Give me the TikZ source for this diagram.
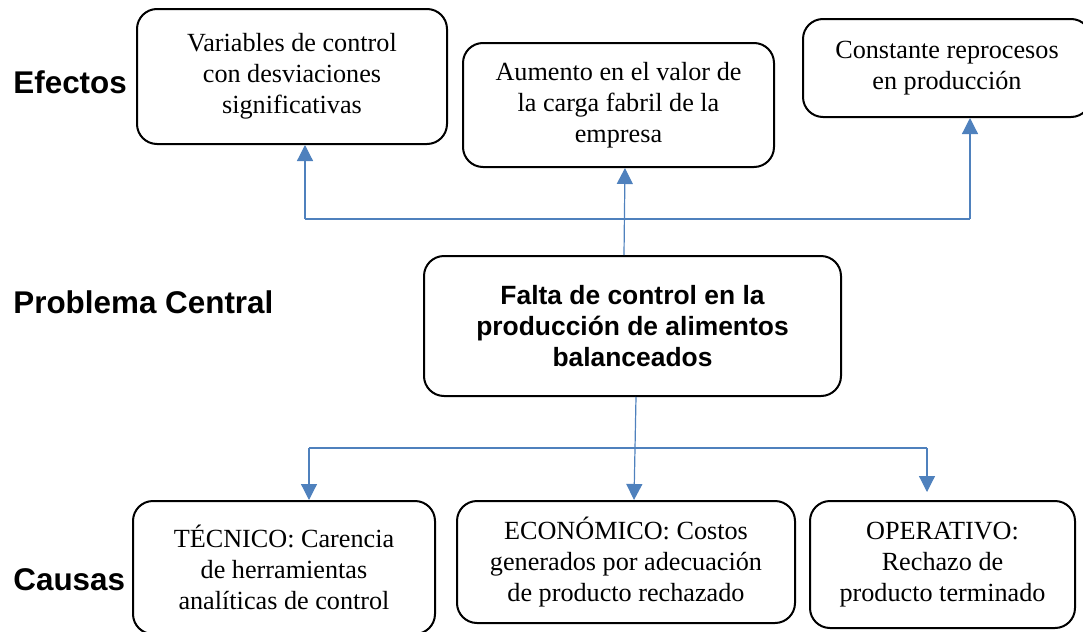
\documentclass[tikz,border=0pt]{standalone}
\usepackage{fontspec}
\setmainfont{Liberation Serif}
\setsansfont{Liberation Sans}
\usepackage{tikz}
\usetikzlibrary{arrows.meta}
\usetikzlibrary{positioning}
\definecolor{linkblue}{RGB}{79,129,189}
\tikzstyle{box} = [draw=black, line width=1pt, rounded corners=10pt, inner sep=0pt, align=center, font=\fontsize{13.1}{15.5}\selectfont]
\tikzstyle{core} = [box, font=\sffamily\bfseries\fontsize{13.2}{15.5}\selectfont]
\tikzstyle{tag} = [anchor=base west, inner sep=0pt, font=\sffamily\bfseries\fontsize{15.7}{18}\selectfont]
\tikzstyle{link} = [draw=linkblue, line width=0.6pt]
\tikzstyle{arrow} = [link, -{Triangle[length=8pt,width=8pt]}]

\begin{document}
\begin{tikzpicture}[x=0.5pt, y=-0.5pt]
                        \useasboundingbox (0, 0) rectangle (1083, 632);
                        \node [tag] (efectos) at (13, 93) {Efectos};
                        \node [tag] (problema) at (13, 313) {Problema Central};
                        \node [tag] (causas) at (13, 590) {Causas};
                        \node [box, minimum width=155pt, minimum height=67.5pt] (var) at (292, 76.5) {Variables de control\\con desviaciones\\significativas};
                        \node [box, minimum width=155.5pt, minimum height=62pt] (aum) at (618.5, 105) {Aumento en el valor de\\la carga fabril de la\\empresa};
                        \node [box, minimum width=144pt, minimum height=49pt] (cons) at (947, 68) {Constante reprocesos\\en producción};
                        \node [core, minimum width=208.5pt, minimum height=70pt] (falta) at (632.5, 326) {Falta de control en la\\producción de alimentos\\balanceados};
                        \node [box, minimum width=151pt, minimum height=66.5pt] (tec) at (284, 567.5) {TÉCNICO: Carencia\\de herramientas\\analíticas de control};
                        \node [box, minimum width=169pt, minimum height=61pt] (econ) at (626, 562) {ECONÓMICO: Costos\\generados por adecuación\\de producto rechazado};
                        \node [box, minimum width=132.5pt, minimum height=63.5pt] (oper) at (942.5, 564.5) {OPERATIVO:\\Rechazo de\\producto terminado};
                        % efectos
                        \coordinate (tl) at (305, 219);
                        \coordinate (tr) at (970, 219);
                        \draw [link] (tl) -- (tr);
                        \draw [arrow] (tl) -- (tl |- var.south);
                        \draw [arrow] (tr) -- (tr |- cons.south);
                        \draw [arrow] ([xshift=-4.25pt]falta.north) -- ([xshift=3.25pt]aum.south);
                        % causas
                        \coordinate (bl) at (309, 448);
                        \coordinate (br) at (927, 448);
                        \draw [link] (bl) -- (br);
                        \draw [arrow] ([xshift=1.75pt]falta.south) -- ([xshift=4pt]econ.north);
                        \draw [arrow] (bl) -- (bl |- tec.north);
                        \draw [arrow, shorten >=4pt] (br) -- (br |- oper.north);
                    \end{tikzpicture}
\end{document}
